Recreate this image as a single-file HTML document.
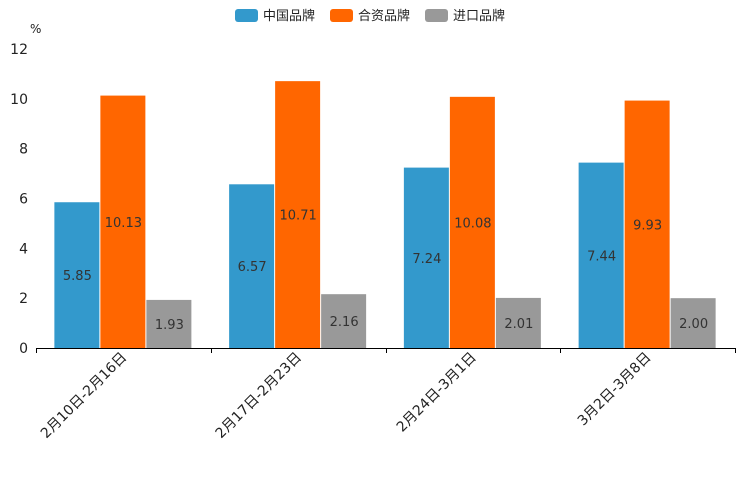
<!DOCTYPE html>
<html><head><meta charset="utf-8"><style>
body{margin:0;background:#fff;}
svg text{font-family:"DejaVu Sans","Noto Sans CJK SC",sans-serif;}
</style></head><body>
<svg id="c" width="744" height="496" xmlns="http://www.w3.org/2000/svg">
<g>
<g><rect x="235" y="9" width="23" height="13" rx="3" fill="#3399cc"/><text x="263" y="20" font-size="13" fill="#222">中国品牌</text></g>
<g><rect x="330" y="9" width="23" height="13" rx="3" fill="#ff6600"/><text x="358" y="20" font-size="13" fill="#222">合资品牌</text></g>
<g><rect x="425" y="9" width="23" height="13" rx="3" fill="#999999"/><text x="453" y="20" font-size="13" fill="#222">进口品牌</text></g>
</g>
<text x="30" y="33" font-size="12" fill="#222">%</text>
<g id="plot"></g>
</svg>
<script>
const categories=["2月10日-2月16日","2月17日-2月23日","2月24日-3月1日","3月2日-3月8日"];
const chinaValues=[5.85,6.57,7.24,7.44];
const jvValues=[10.13,10.71,10.08,9.93];
const importValues=[1.93,2.16,2.01,2.00];
const yTicks=[0,2,4,6,8,10,12];
const ns="http://www.w3.org/2000/svg";
const g=document.getElementById('plot');
const x0=36,x1=735,y0=348,yTop=49,yMax=12;
const gw=(x1-x0)/categories.length,bw=46,pad=(gw-3*bw)/2;
function y(v){return y0-(v/yMax)*(y0-yTop);}
function mk(t,a){const e=document.createElementNS(ns,t);for(const k in a)e.setAttribute(k,a[k]);g.appendChild(e);return e;}
yTicks.forEach(v=>{const t=mk('text',{x:28,y:y(v)+5,'font-size':14,fill:'#222','text-anchor':'end'});t.textContent=v;

});
const series=[[chinaValues,'#3399cc','china'],[jvValues,'#ff6600','jv'],[importValues,'#999999','import']];
categories.forEach((c,i)=>{
 series.forEach((s,j)=>{
  const v=s[0][i],bx=x0+i*gw+pad+j*bw;
  const r=mk('rect',{x:bx,y:y(v),width:bw-1,height:y0-y(v),fill:s[1]});
  
  
  const t=mk('text',{x:bx+bw/2,y:(y(v)+y0)/2+5,'font-size':13,fill:'#333','text-anchor':'middle'});
  t.textContent=v.toFixed(2);
  
  
 });
 const cx=x0+i*gw+gw/2;
 const t=mk('text',{x:cx+4,y:358,'font-size':14,fill:'#222','text-anchor':'end',transform:`rotate(-45 ${cx+4} 358)`});
 t.textContent=c;
 
 
});
const ax=mk('line',{x1:x0,y1:y0+0.5,x2:x1,y2:y0+0.5,stroke:'#000','stroke-width':1});


for(let i=0;i<=categories.length;i++){const xx=Math.round(x0+i*gw)+0.5;const tk=mk('line',{x1:xx,y1:y0,x2:xx,y2:y0+5,stroke:'#000'});

}
</script>
</body></html>
